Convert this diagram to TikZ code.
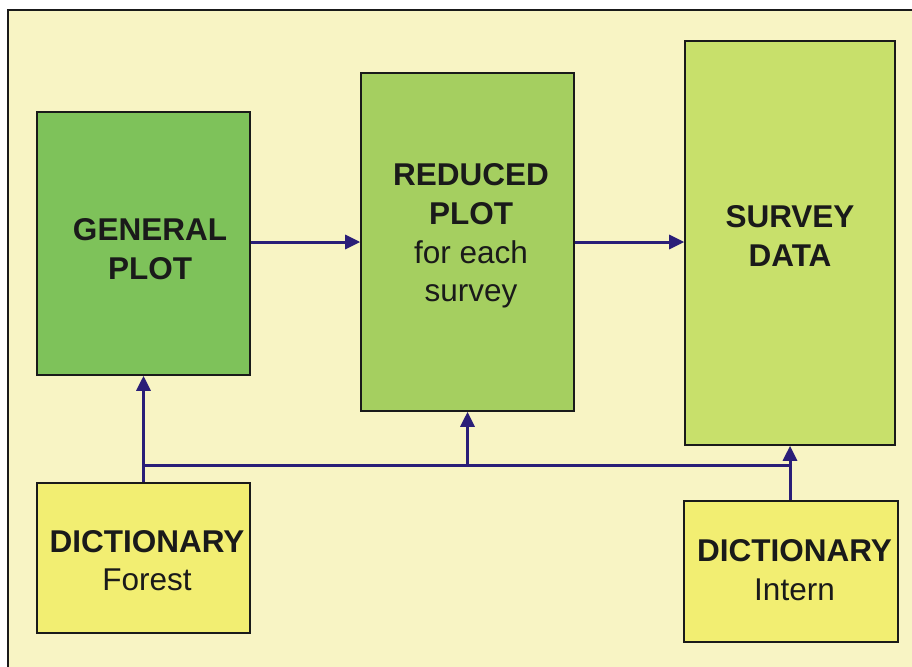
\documentclass[tikz,border=0pt]{standalone}
\usepackage{fontspec}
\setmainfont{Liberation Sans}
\usetikzlibrary{arrows.meta}
\definecolor{paper}{RGB}{248,244,196}
\definecolor{wire}{RGB}{42,30,120}
\definecolor{ink}{RGB}{26,26,26}
\tikzset{
    block/.style = {draw=ink, line width=1.6pt, inner sep=0pt},
    generalbox/.style = {block, fill={rgb,255:red,126;green,194;blue,90}, minimum width=213pt, minimum height=263pt},
    reducedbox/.style = {block, fill={rgb,255:red,165;green,207;blue,96}, minimum width=213pt, minimum height=338pt},
    surveybox/.style = {block, fill={rgb,255:red,200;green,224;blue,107}, minimum width=210pt, minimum height=404pt},
    dictbox/.style = {block, fill={rgb,255:red,242;green,238;blue,114}, minimum width=213pt},
    caption/.style = {inner sep=0pt, align=center, text=ink, font=\fontsize{31.5}{38.7}\selectfont},
    link/.style = {draw=wire, line width=3pt},
    flow/.style = {link, -{Triangle[length=15pt, width=14pt]}}
}
\begin{document}
\begin{tikzpicture}[x=1pt, y=-1pt]
        \useasboundingbox (0,0) rectangle (912,666);
        % paper and frame
        \fill[paper] (8,10) rectangle (914,668);
        \draw[ink, line width=2pt] (8,668) -- (8,10) -- (914,10);

        % place blocks
        \node[generalbox] (general) at (143.5,243.5) {};
        \node[reducedbox] (reduced) at (467.5,242) {};
        \node[surveybox] (survey) at (790,243) {};
        \node[dictbox, minimum height=150pt] (forest) at (143.5,558) {};
        \node[dictbox, minimum width=214pt, minimum height=141pt] (intern) at (791,571.5) {};
        % place block texts
        \node[caption] (general-text) at (150,249) {\textbf{GENERAL}\\\textbf{PLOT}};
        \node[caption] (reduced-text) at (471,236) {\textbf{REDUCED}\\\textbf{PLOT}\\for each\\survey};
        \node[caption] (survey-text) at (790,236) {\textbf{SURVEY}\\\textbf{DATA}};
        \node[caption] (forest-text) at (147,560.5) {\textbf{DICTIONARY}\\Forest};
        \node[caption] (intern-text) at (794.5,570) {\textbf{DICTIONARY}\\Intern};
        \coordinate (bus) at (0,465);

        % draw main flow
        \draw[flow] (general.east |- reduced.west) -- (reduced.west);
        \draw[flow] (reduced.east) -- (reduced.east -| survey.west);
        % draw dictionary links
        \draw[flow] (forest.north) -- (general.south);
        \draw[link] (forest.north |- bus) -- (survey.south |- bus);
        \draw[flow] (reduced.south |- bus) -- (reduced.south);
        \draw[flow] (survey.south |- intern.north) -- (survey.south);
    \end{tikzpicture}
\end{document}
